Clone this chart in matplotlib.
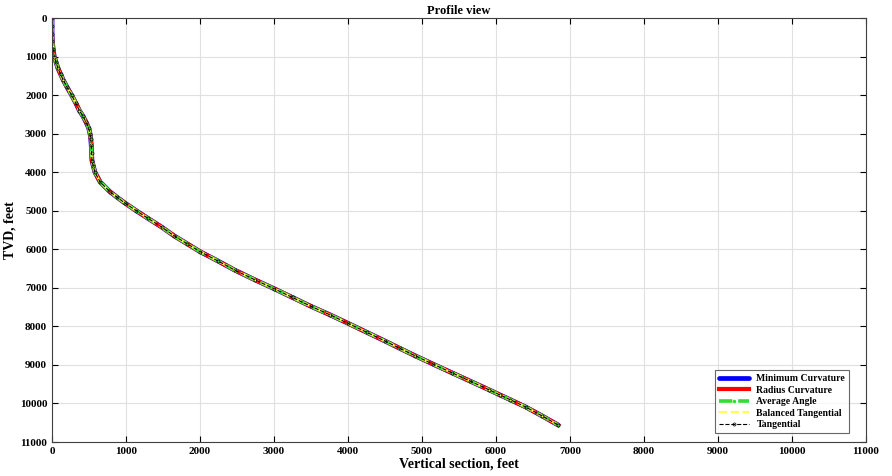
import matplotlib
matplotlib.use('Agg')
import matplotlib.pyplot as plt
from matplotlib import rcParams

rcParams['font.family'] = 'serif'
rcParams['font.serif'] = ['Liberation Serif', 'DejaVu Serif']
rcParams['font.weight'] = 'bold'

# survey stations (vertical section, TVD) in feet
vsec = [0, 0, 0, 5, 15, 30, 55, 80, 115, 150, 205, 265, 320, 370, 420, 460, 495, 514,
        525, 530, 535, 540, 560, 580, 650, 780, 880, 986, 1140, 1300, 1480, 1650,
        1830, 2000, 2240, 2470, 2740, 3000, 3250, 3500, 3757, 4000, 4250, 4500,
        4700, 4905, 5150, 5400, 5650, 5900, 6054, 6190, 6400, 6620, 6840]
tvd = [0, 200, 400, 600, 800, 1000, 1150, 1300, 1450, 1600, 1800, 2000, 2200, 2400,
       2550, 2700, 2850, 3000, 3150, 3300, 3500, 3700, 3850, 4000, 4250, 4500, 4650,
       4800, 5000, 5200, 5420, 5650, 5860, 6060, 6300, 6540, 6790, 7020, 7250, 7480,
       7700, 7920, 8150, 8380, 8570, 8760, 8980, 9200, 9420, 9640, 9780, 9900, 10090,
       10320, 10560]

methods = ['Minimum Curvature', 'Radius Curvature', 'Average Angle',
           'Balanced Tangential', 'Tangential']
ticks = [0, 1000, 2000, 3000, 4000, 5000, 6000, 7000, 8000, 9000, 10000, 11000]

fig = plt.figure(figsize=(8.92, 4.76), dpi=100)
ax = fig.add_axes([0.0583, 0.0714, 0.9126, 0.8906])

ax.plot(vsec, tvd, color='#0000ff', lw=3.4, solid_capstyle='round', label=methods[0])
ax.plot(vsec, tvd, color='#ff0000', lw=3, label=methods[1])
ax.plot(vsec, tvd, color='#33dd33', lw=2.6, ls='--', marker='.', ms=3, label=methods[2])
ax.plot(vsec, tvd, color='#ffff55', lw=1.6, ls='--', label=methods[3])
ax.plot(vsec, tvd, color='black', lw=0.8, ls='--', marker='o', ms=2.2,
        mfc='none', mew=0.5, label=methods[4])

ax.set_xlim(0, 11000)
ax.set_ylim(11000, 0)
ax.set_xticks(ticks)
ax.set_yticks(ticks)
ax.tick_params(direction='in', top=True, right=True, labelsize=8, length=4, width=0.8)
ax.grid(True, color='#e0e0e0', lw=0.8)
ax.set_axisbelow(True)
for s in ax.spines.values():
    s.set_color('#404040')
    s.set_linewidth(0.8)

ax.set_title('Profile view', fontsize=9, fontweight='bold', pad=3)
ax.set_xlabel('Vertical section, feet', fontsize=10, fontweight='bold', labelpad=1)
ax.set_ylabel('TVD, feet', fontsize=10, fontweight='bold', labelpad=2)

leg = ax.legend(loc='lower right', fontsize=7, frameon=True, fancybox=False,
                edgecolor='#404040', borderpad=0.4, labelspacing=0.25,
                handlelength=3, bbox_to_anchor=(0.985, 0.01))
leg.get_frame().set_linewidth(0.8)

fig.savefig('out.png', dpi=100)
